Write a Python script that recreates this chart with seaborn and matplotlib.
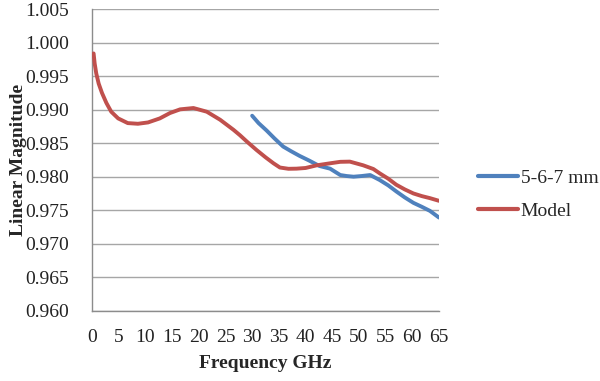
import matplotlib
matplotlib.use("Agg")
import matplotlib.pyplot as plt
import seaborn as sns
import pandas as pd

# Data
model_freq = [0.3, 0.5, 0.8, 1.25, 1.87, 2.7, 3.6, 4.9, 6.7, 8.6, 10.5, 12.7, 14.6, 16.5, 19.0,
              21.5, 24.0, 26.5, 27.7, 29.0, 30.8, 32.5, 34.0, 35.2, 36.8, 38.3, 40.0, 42.1, 44.6,
              46.5, 48.3, 50.8, 52.7, 53.9, 55.5, 57.0, 58.6, 60.2, 61.8, 63.3, 65.0]
model_vals = [0.9984, 0.9969, 0.9954, 0.9939, 0.9925, 0.9910, 0.9897, 0.9887, 0.9880, 0.9879,
              0.9881, 0.9887, 0.9895, 0.99005, 0.99025, 0.9897, 0.9885, 0.9870, 0.9862, 0.98525,
              0.9840, 0.9829, 0.9820, 0.98137, 0.98118, 0.9812, 0.98130, 0.98170, 0.9820,
              0.98222, 0.98225, 0.9817, 0.98115, 0.9805, 0.9797, 0.9788, 0.9781, 0.9775,
              0.9771, 0.9768, 0.9764]

meas_freq = [30.0, 31.2, 32.7, 34.2, 35.8, 37.3, 38.9, 40.7, 42.6, 44.6, 46.5, 47.7, 49.0, 50.5,
             52.1, 53.9, 55.5, 57.0, 58.6, 60.2, 61.8, 63.3, 65.0]
meas_vals = [0.9891, 0.9880, 0.9869, 0.9857, 0.9845, 0.9838, 0.9831, 0.9824, 0.9816, 0.9812,
             0.98025, 0.9801, 0.9800, 0.9801, 0.98025, 0.9795, 0.9787, 0.9778, 0.9769, 0.9761,
             0.9755, 0.9749, 0.9739]

series_names = ["5-6-7 mm", "Model"]
series_colors = ["#4F81BD", "#C0504D"]
x_ticks = list(range(0, 66, 5))
y_ticks = [0.960, 0.965, 0.970, 0.975, 0.980, 0.985, 0.990, 0.995, 1.000, 1.005]

df = pd.concat([
    pd.DataFrame({"Frequency": meas_freq, "Value": meas_vals, "Series": series_names[0]}),
    pd.DataFrame({"Frequency": model_freq, "Value": model_vals, "Series": series_names[1]}),
], ignore_index=True)

sns.set_theme(style="white")
plt.rcParams["font.family"] = ["Liberation Serif", "DejaVu Serif"]

fig = plt.figure(figsize=(6.0, 3.81), dpi=100)
ax = fig.add_axes([92/600, 1 - 310.7/381, (439-92)/600, (310.7-9.2)/381])

sns.lineplot(data=df, x="Frequency", y="Value", hue="Series", hue_order=series_names,
             palette=series_colors, linewidth=2.8, ax=ax, sort=True, estimator=None,
             solid_joinstyle="round", solid_capstyle="round", zorder=3)

ax.set_xlim(0, 65)
ax.set_ylim(0.960, 1.005)
ax.set_xticks(x_ticks)
ax.set_yticks(y_ticks)
ax.set_yticklabels([f"{v:.3f}" for v in y_ticks])
ax.grid(axis="y", color="#a6a6a6", linewidth=1.0, zorder=0)
ax.grid(axis="x", visible=False)
for s in ["top", "right"]:
    ax.spines[s].set_visible(False)
for s in ["left", "bottom"]:
    ax.spines[s].set_color("#8c8c8c")
    ax.spines[s].set_linewidth(1.0)
ax.tick_params(axis="both", which="major", direction="out", length=5, width=1,
               color="#8c8c8c", labelsize=14, labelcolor="#222222")
ax.tick_params(axis="x", pad=8)
ax.tick_params(axis="y", pad=11.5)

ax.set_xlabel("Frequency GHz", fontsize=14, fontweight="bold", labelpad=7)
ax.set_ylabel("Linear Magnitude", fontsize=14, fontweight="bold", labelpad=-1)

leg = ax.legend(loc="upper left", bbox_to_anchor=(478/600, 1 - 169/381),
                bbox_transform=fig.transFigure, frameon=False, fontsize=14,
                handlelength=2.05, handletextpad=0.15, labelspacing=0.8,
                borderpad=0, borderaxespad=0, title=None)
for line in leg.get_lines():
    line.set_linewidth(3)

fig.savefig("out.png", dpi=100)
